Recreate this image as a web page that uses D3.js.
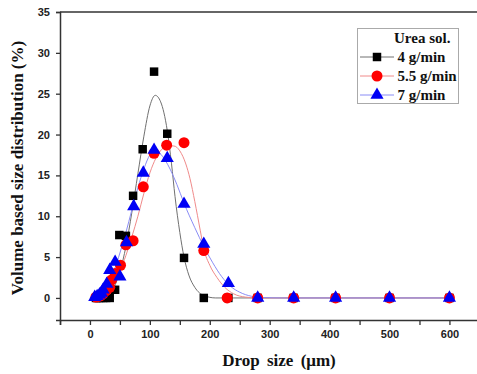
<!DOCTYPE html>
<html><head><meta charset="utf-8">
<script src="https://cdn.jsdelivr.net/npm/d3@7"></script>
<style>body{margin:0;background:#fff}svg{display:block}</style>
</head><body>
<svg id="c" width="477" height="374"></svg>
<script>
// ---------- data ----------
const seriesNames = ["4 g/min", "5.5 g/min", "7 g/min"];
const xTicks = [0, 100, 200, 300, 400, 500, 600];
const yTicks = [0, 5, 10, 15, 20, 25, 30, 35];

const x4 = [10, 12, 15, 18, 22, 27, 33, 42, 49, 60, 72, 88, 107, 129, 157, 190, 231, 280, 340, 410, 500, 600];
const y4 = [0, 0, 0, 0, 0, 0, 0, 1.0, 7.7, 7.6, 12.5, 18.2, 27.7, 20.1, 4.9, 0, 0, 0, 0, 0, 0, 0];

const x55 = [10, 12, 15, 18, 22, 27, 33, 36, 42, 51, 60, 72, 89, 107, 128, 157, 190, 229, 280, 340, 410, 500, 600];
const y55 = [0.1, 0.2, 0.2, 0.3, 0.5, 0.9, 1.3, 2.2, 3.0, 4.0, 6.5, 7.0, 13.6, 17.7, 18.7, 19.0, 5.8, 0, 0, 0, 0, 0, 0];

const x7 = [8, 12, 16, 19, 22, 28, 33, 42, 50, 61, 73, 89, 107, 129, 157, 190, 231, 280, 340, 410, 500, 600];
const y7 = [0.1, 0.2, 0.4, 0.6, 1.0, 1.7, 3.4, 4.4, 2.6, 6.8, 11.2, 15.3, 18.1, 17.1, 11.5, 6.6, 1.8, 0, 0, 0, 0, 0];

// fitted curves
const fx4 = [0, 20, 30, 40, 50, 60, 70, 80, 90, 100, 109, 118, 129, 136, 142, 150, 157, 165, 175, 190, 210, 240, 300, 600];
const fy4 = [0, 0.1, 0.4, 1.3, 3.2, 6.3, 10.5, 15.2, 19.8, 23.5, 24.8, 24.0, 20.5, 16.5, 12.4, 8.0, 5.0, 2.8, 1.3, 0.3, 0, 0, 0, 0];

const fx55 = [0, 20, 30, 40, 50, 60, 70, 80, 90, 100, 110, 120, 130, 140, 150, 160, 167, 175, 184, 190, 200, 212, 225, 240, 260, 280, 300, 600];
const fy55 = [0, 0.3, 0.8, 1.8, 3.3, 5.2, 7.5, 10.0, 12.8, 15.3, 17.1, 18.2, 18.6, 18.6, 18.0, 16.4, 14.6, 11.8, 8.3, 6.0, 4.0, 2.5, 1.3, 0.5, 0.1, 0, 0, 0];

const fx7 = [0, 10, 20, 30, 40, 50, 60, 70, 80, 90, 100, 108, 118, 130, 145, 157, 175, 190, 205, 220, 235, 250, 270, 290, 320, 600];
const fy7 = [0, 0.1, 0.5, 1.6, 3.3, 5.5, 8.0, 10.8, 13.5, 15.8, 17.5, 18.0, 17.6, 16.3, 13.9, 11.6, 8.6, 6.3, 4.3, 2.6, 1.4, 0.7, 0.2, 0.05, 0, 0];

// ---------- chart ----------
const svg = d3.select("#c");
const X = d3.scaleLinear().domain([-50, 650]).range([60, 479.4]);
const Y = d3.scaleLinear().domain([-2.7, 35]).range([320, 12]);

const axisColor = "#333";
const tickFont = "bold 11px 'Liberation Sans', Arial, sans-serif";

// frame: top border
svg.append("line").attr("x1", X(-50)).attr("x2", 477).attr("y1", Y(35)).attr("y2", Y(35))
  .attr("stroke", axisColor).attr("stroke-width", 1.3);

// x axis
const xa = svg.append("g").attr("transform", `translate(0,${Y(-2.7)})`)
  .call(d3.axisBottom(X).tickValues(d3.range(-50, 651, 50)).tickSize(5)
    .tickFormat(d => xTicks.includes(d) ? d : ""));
xa.select(".domain").attr("stroke", axisColor).attr("stroke-width", 1.5);
xa.selectAll(".tick line").attr("stroke", axisColor).attr("stroke-width", 1.3);
xa.selectAll("text").style("font", tickFont).attr("fill", "#222").attr("dy", "0.95em");

// y axis
const ya = svg.append("g").attr("transform", `translate(${X(-50)},0)`)
  .call(d3.axisLeft(Y).tickValues(yTicks).tickSize(4).tickPadding(6));
ya.select(".domain").attr("stroke", axisColor).attr("stroke-width", 1.5);
ya.selectAll(".tick line").attr("stroke", axisColor).attr("stroke-width", 1.3);
ya.selectAll("text").style("font", tickFont).attr("fill", "#222");

// axis titles
svg.append("text").attr("x", 279).attr("y", 366).attr("text-anchor", "middle")
  .style("font", "bold 17px 'Liberation Serif', 'Times New Roman', serif").attr("fill", "#111")
  .style("word-spacing", "3px")
  .text("Drop size (μm)");
svg.append("text").attr("transform", "translate(23,168) rotate(-90)").attr("text-anchor", "middle")
  .style("font", "bold 17px 'Liberation Serif', 'Times New Roman', serif").attr("fill", "#111")
  .text("Volume based size distribution (%)");

// curves
const lineGen = d3.line().x(d => X(d[0])).y(d => Y(d[1])).curve(d3.curveMonotoneX);
const fits = [
  {xs: fx4, ys: fy4, c: "#707070"},
  {xs: fx55, ys: fy55, c: "#f08a8a"},
  {xs: fx7, ys: fy7, c: "#8a8cf5"}
];
fits.forEach(f => {
  svg.append("path").datum(f.xs.map((v, i) => [v, f.ys[i]]))
    .attr("d", lineGen).attr("fill", "none").attr("stroke", f.c).attr("stroke-width", 1);
});

// markers
const sq = d3.symbol().type(d3.symbolSquare).size(72);
const ci = d3.symbol().type(d3.symbolCircle).size(95);
const tr = d3.symbol().type(d3.symbolTriangle).size(75);
const pts = [
  {xs: x4, ys: y4, sym: sq, c: "#000"},
  {xs: x55, ys: y55, sym: ci, c: "#f00"},
  {xs: x7, ys: y7, sym: tr, c: "#0000f5"}
];
pts.forEach(p => {
  svg.append("g").selectAll("path").data(p.xs.map((v, i) => [v, p.ys[i]])).join("path")
    .attr("d", p.sym()).attr("fill", p.c)
    .attr("transform", d => `translate(${X(d[0])},${Y(d[1])})`);
});

// legend
const lg = svg.append("g");
lg.append("rect").attr("x", 357.5).attr("y", 28.5).attr("width", 101).attr("height", 75)
  .attr("fill", "#fff").attr("stroke", "#aaa").attr("stroke-width", 1);
const lFont = "bold 15px 'Liberation Serif', 'Times New Roman', serif";
lg.append("text").attr("x", 394).attr("y", 43).style("font", lFont).attr("fill", "#111").text("Urea sol.");
const rows = [57, 76, 95];
seriesNames.forEach((name, i) => {
  const yy = rows[i];
  lg.append("line").attr("x1", 360).attr("x2", 394).attr("y1", yy).attr("y2", yy)
    .attr("stroke", fits[i].c).attr("stroke-width", 1);
  lg.append("path").attr("d", pts[i].sym()).attr("fill", pts[i].c)
    .attr("transform", `translate(377,${yy})`);
  lg.append("text").attr("x", 397.5).attr("y", yy + 5).style("font", lFont).attr("fill", "#111").text(name);
});
</script>
</body></html>
